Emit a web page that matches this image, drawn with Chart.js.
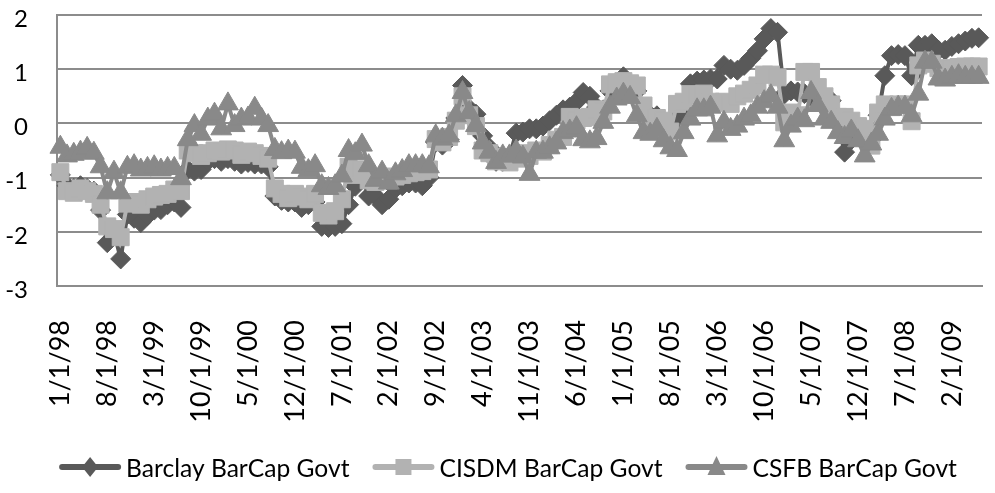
<!DOCTYPE html>
<html lang="en">
<head>
  <meta charset="UTF-8">
  <title>BarCap Govt comparison</title>
  <script src="https://cdn.jsdelivr.net/npm/chart.js"></script>
  <style>
    body { margin: 0; background: #fff; }
    #chartBox { width: 995px; height: 493px; }
  </style>
</head>
<body>
  <div id="chartBox"><canvas id="govtChart" width="995" height="493"></canvas></div>

  <script>
    // monthly categories, 1/1/98 through 6/1/09
    const months = [];
    for (let yr = 1998; yr <= 2009; yr++) {
      for (let mo = 1; mo <= 12; mo++) {
        if (yr === 2009 && mo > 6) break;
        months.push(mo + '/1/' + String(yr).slice(2));
      }
    }
    const labelStep = 7;        // every 7th month gets a tick label
    const yMin = -3, yMax = 2;

    const seriesNames = ['Barclay BarCap Govt', 'CISDM BarCap Govt', 'CSFB BarCap Govt'];

    // one row per year (last row is Jan-Jun 2009)
    const barclay = [
      -0.95, -1.15, -1.2, -1.15, -1.2, -1.25, -1.6, -2.2, -2.0, -2.5, -1.68, -1.75,
      -1.83, -1.7, -1.6, -1.59, -1.5, -1.45, -1.55, -0.85, -0.88, -0.85, -0.7, -0.65,
      -0.7, -0.65, -0.7, -0.75, -0.72, -0.75, -0.75, -0.8, -1.34, -1.42, -1.45, -1.45,
      -1.55, -1.5, -1.45, -1.9, -1.92, -1.9, -1.85, -1.5, -1.16, -1.0, -1.34, -1.34,
      -1.5, -1.4, -1.2, -1.15, -1.1, -1.1, -1.15, -1.0, -0.35, -0.4, -0.3, 0.1,
      0.7, 0.27, 0.17, -0.23, -0.45, -0.7, -0.7, -0.6, -0.18, -0.16, -0.1, -0.1,
      -0.05, 0.05, 0.15, 0.25, 0.3, 0.4, 0.57, 0.5, 0.3, 0.25, 0.6, 0.7,
      0.86, 0.7, 0.6, 0.25, 0.15, 0.14, 0.0, -0.05, 0.1, 0.23, 0.73, 0.78,
      0.8, 0.82, 0.82, 1.07, 1.0, 0.98, 1.07, 1.2, 1.34, 1.56, 1.75, 1.68,
      0.54, 0.6, 0.58, 0.55, 0.5, 0.45, 0.42, 0.42, 0.0, -0.53, -0.3, -0.2,
      -0.35, -0.3, 0.15, 0.88, 1.25, 1.27, 1.25, 0.88, 1.44, 1.44, 1.47, 1.35,
      1.35, 1.42, 1.47, 1.52, 1.57, 1.58
    ];
    const cisdm = [
      -0.9, -1.25, -1.28, -1.2, -1.25, -1.3, -1.5, -1.9, -1.95, -2.1, -1.48, -1.45,
      -1.5, -1.4, -1.35, -1.32, -1.3, -1.22, -1.25, -0.5, -0.55, -0.6, -0.55, -0.5,
      -0.52, -0.48, -0.5, -0.58, -0.52, -0.55, -0.6, -0.65, -1.2, -1.3, -1.38, -1.3,
      -1.35, -1.4, -1.3, -1.65, -1.7, -1.62, -1.4, -0.8, -0.95, -0.85, -1.05, -1.08,
      -1.0, -1.05, -0.98, -0.95, -0.92, -0.9, -0.88, -0.85, -0.29, -0.35, -0.25, 0.05,
      0.5, 0.15, -0.05, -0.5, -0.55, -0.7, -0.62, -0.72, -0.65, -0.55, -0.6, -0.5,
      -0.52, -0.4, -0.3, -0.25, 0.12, 0.05, 0.1, 0.12, 0.26, 0.22, 0.72, 0.76,
      0.78, 0.74, 0.7, 0.33, 0.08, 0.1, 0.05, -0.15, 0.36, 0.4, 0.54, 0.52,
      0.55, 0.4, 0.38, 0.4, 0.36, 0.5, 0.55, 0.62, 0.7, 0.9, 0.9, 0.85,
      0.02, 0.2, 0.15, 0.95, 0.95, 0.67, 0.5, 0.35, 0.12, 0.12, 0.05, -0.05,
      -0.1, -0.41, 0.2, 0.35, 0.3, 0.35, 0.35, 0.04, 1.07, 1.16, 1.1, 1.02,
      1.0, 1.02, 1.04, 1.05, 1.05, 1.05
    ];
    const csfb = [
      -0.44, -0.6, -0.57, -0.53, -0.46, -0.55, -0.8, -1.28, -0.9, -1.28, -0.81, -0.78,
      -0.86, -0.83, -0.8, -0.86, -0.83, -0.83, -1.02, -0.3, -0.04, -0.2, 0.08, 0.17,
      -0.1, 0.36, -0.04, 0.08, 0.1, 0.28, 0.08, -0.04, -0.48, -0.54, -0.51, -0.53,
      -0.81, -0.87, -0.78, -1.15, -1.2, -1.15, -0.97, -0.5, -0.56, -0.4, -0.78, -1.05,
      -0.9, -1.1, -0.93, -0.87, -0.78, -0.78, -0.78, -0.8, -0.23, -0.29, -0.23, 0.14,
      0.57, 0.2, -0.04, -0.36, -0.53, -0.72, -0.6, -0.6, -0.51, -0.62, -0.94, -0.53,
      -0.53, -0.45, -0.36, -0.17, -0.14, -0.08, -0.3, -0.34, -0.28, 0.02, 0.3, 0.45,
      0.54, 0.48, 0.14, -0.17, -0.2, -0.11, -0.32, -0.45, -0.5, -0.17, 0.08, 0.25,
      0.25, 0.3, -0.23, 0.02, -0.11, -0.05, 0.08, 0.14, 0.3, 0.4, 0.51, 0.3,
      -0.32, -0.05, 0.08, 0.05, 0.57, 0.33, 0.08, 0.02, -0.17, -0.26, -0.14, -0.32,
      -0.6, -0.38, -0.2, 0.08, 0.26, 0.3, 0.3, 0.14, 0.54, 1.13, 1.13, 0.82,
      0.8, 0.85, 0.88, 0.85, 0.85, 0.85
    ];

    const colors = ['#595959', '#b2b2b2', '#898989'];
    const shapes = ['rectRot', 'rect', 'triangle'];
    const radii = [10, 12, 12];
    const gridColor = '#8c8c8c';
    const fontName = 'Lato, "Open Sans", sans-serif';

    // line + marker key under the x labels, centred like an Excel legend
    const seriesKey = {
      id: 'seriesKey',
      afterDraw(chart) {
        const g = chart.ctx;
        const sets = chart.data.datasets;
        const lineLen = 62, textGap = 5, itemGap = 23;
        const midY = 467, baseY = 477;
        g.save();
        g.font = '24.6px ' + fontName;
        const widths = sets.map(ds => g.measureText(ds.label).width);
        const total = widths.reduce((a, w) => a + lineLen + textGap + w, 0) + itemGap * (sets.length - 1);
        let x = 508 - total / 2;
        sets.forEach((ds, i) => {
          const c = ds.borderColor;
          g.strokeStyle = c;
          g.fillStyle = c;
          g.lineWidth = 6;
          g.lineCap = 'round';
          g.beginPath();
          g.moveTo(x + 3, midY);
          g.lineTo(x + lineLen - 3, midY);
          g.stroke();
          const cx = x + lineLen / 2;
          g.beginPath();
          if (ds.pointStyle === 'rectRot') {
            g.moveTo(cx, midY - 10); g.lineTo(cx + 8, midY); g.lineTo(cx, midY + 10); g.lineTo(cx - 8, midY);
          } else if (ds.pointStyle === 'rect') {
            g.rect(cx - 8, midY - 8, 16, 16);
          } else {
            g.moveTo(cx, midY - 11); g.lineTo(cx + 9, midY + 8); g.lineTo(cx - 9, midY + 8);
          }
          g.closePath();
          g.fill();
          g.fillStyle = '#000';
          g.textBaseline = 'alphabetic';
          g.textAlign = 'left';
          g.fillText(ds.label, x + lineLen + textGap, baseY);
          x += lineLen + textGap + widths[i] + itemGap;
        });
        g.restore();
      }
    };

    const allSeries = [barclay, cisdm, csfb];
    const datasets = allSeries.map((vals, i) => ({
      label: seriesNames[i],
      data: vals,
      borderColor: colors[i],
      backgroundColor: colors[i],
      borderWidth: 4,
      pointStyle: shapes[i],
      pointRadius: radii[i],
      pointBackgroundColor: colors[i],
      pointBorderColor: colors[i],
      pointBorderWidth: 1,
      tension: 0,
      order: 3 - i   // first series painted first, last one ends on top
    }));

    const ctx = document.getElementById('govtChart').getContext('2d');
    const chart = new Chart(ctx, {
      type: 'line',
      data: { labels: months, datasets: datasets },
      plugins: [seriesKey],
      options: {
        responsive: false,
        animation: false,
        devicePixelRatio: 1,
        layout: { padding: { left: 0, right: 2, top: 15, bottom: 65 } },
        plugins: {
          tooltip: { enabled: false },
          legend: { display: false }
        },
        scales: {
          x: {
            type: 'category',
            offset: true,
            grid: { display: false },
            border: { display: true, color: gridColor, width: 2 },
            ticks: {
              autoSkip: false,
              maxRotation: 90,
              minRotation: 90,
              padding: 26,
              color: '#000',
              font: { family: fontName, size: 27 },
              callback: function (val, idx) {
                return idx % labelStep === 0 ? this.getLabelForValue(val) : '';
              }
            },
            afterFit: (s) => {
              s.height = 142;
              s.paddingLeft = 0;
              s.paddingRight = 0;
            }
          },
          y: {
            min: yMin,
            max: yMax,
            grid: { color: gridColor, lineWidth: 2, drawTicks: false },
            border: { display: true, color: gridColor, width: 2 },
            ticks: {
              stepSize: 1,
              padding: 29,
              labelOffset: 4,
              color: '#000',
              font: { family: fontName, size: 24 }
            },
            afterFit: (s) => {
              s.width = 57;
              s.paddingTop = 0;
              s.paddingBottom = 0;
            }
          }
        }
      }
    });
  </script>
</body>
</html>
